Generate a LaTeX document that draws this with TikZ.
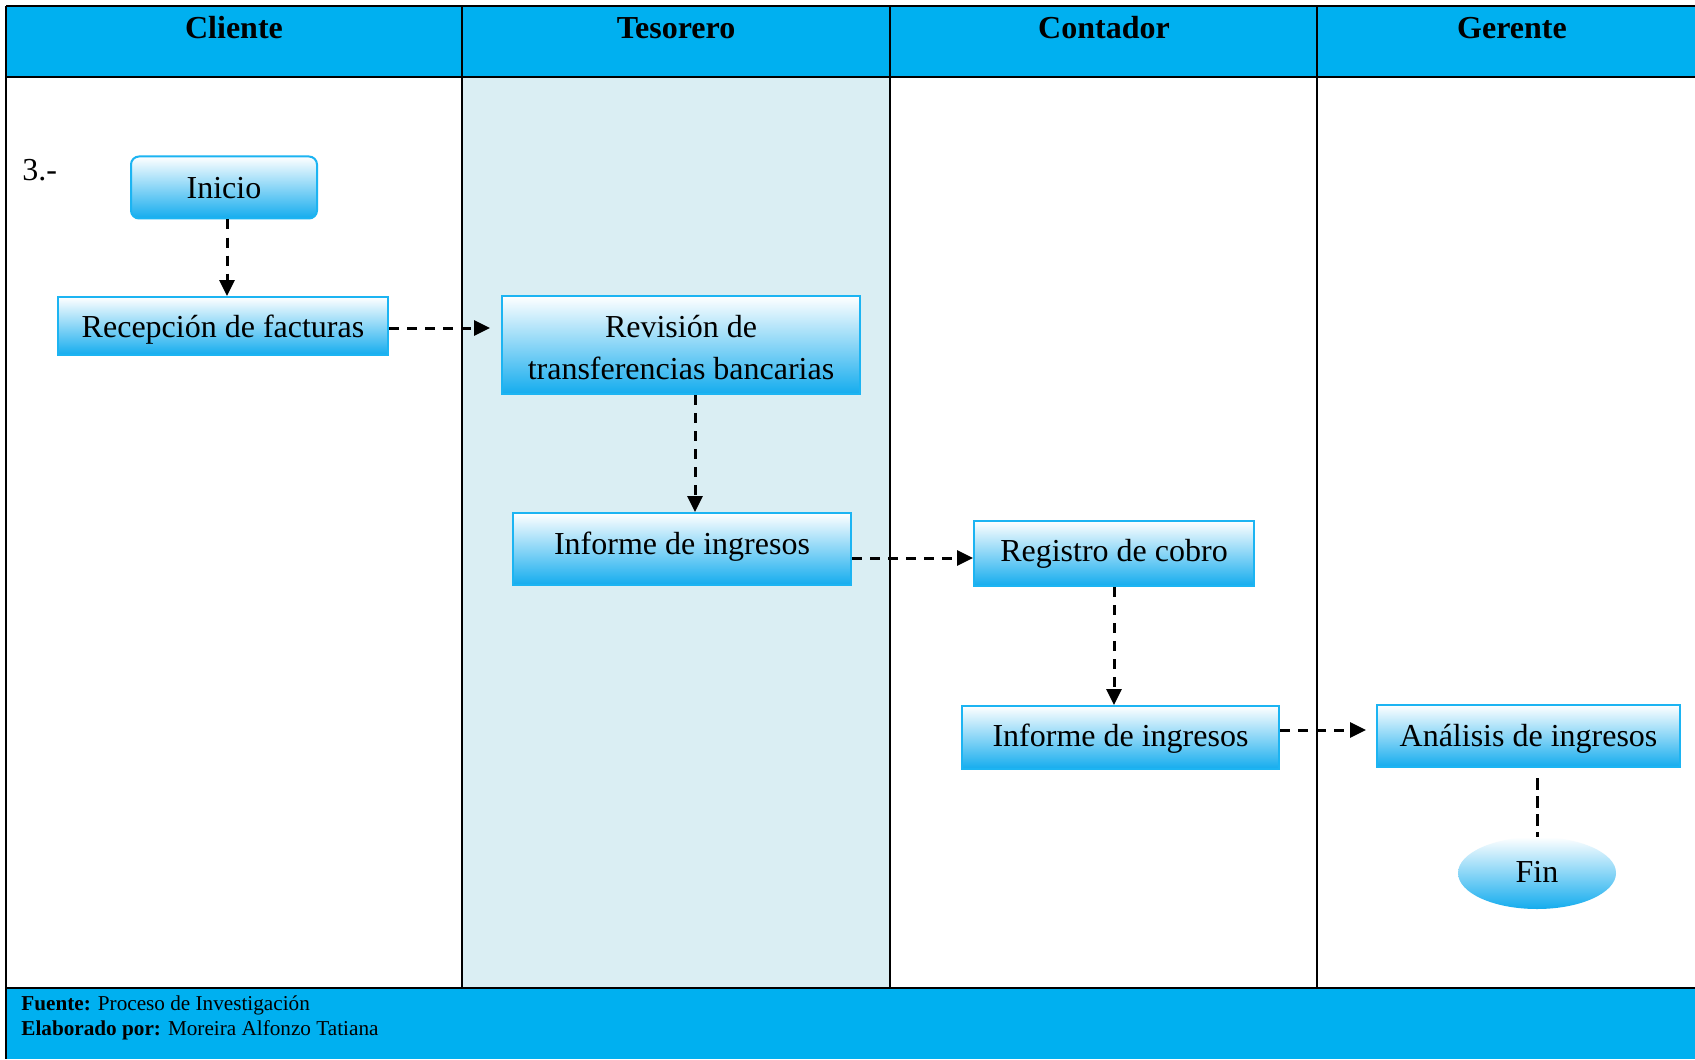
\documentclass[tikz,border=0pt]{standalone}
\usepackage{fontspec}
\setmainfont{Liberation Serif}
\usetikzlibrary{arrows.meta,shapes.geometric}
\definecolor{hdr}{HTML}{00B0F0}
\definecolor{lane}{HTML}{DAEEF3}
\definecolor{boxbot}{HTML}{14ACEE}
\definecolor{boxedge}{HTML}{1CB4F2}
\begin{document}
\begin{tikzpicture}[x=0.5pt,y=-0.5pt,
  grid/.style={draw=black, line width=0.75pt},
  proc/.style={rectangle, draw=boxedge, line width=1pt, top color=white, bottom color=boxbot,
    font=\fontsize{16}{20.5}\selectfont, text height=9pt, text depth=0pt, inner sep=0pt},
  startbox/.style={proc, rounded corners=4pt},
  endbox/.style={ellipse, draw=none, top color=white, bottom color=boxbot,
    font=\fontsize{16}{20.5}\selectfont, text height=9.6pt, text depth=0pt, inner sep=0pt},
  hdrtext/.style={anchor=base, font=\bfseries\fontsize{16}{19}\selectfont, inner sep=0pt},
  foottext/.style={anchor=base west, font=\fontsize{10.6}{12.5}\selectfont, inner sep=0pt},
  arr/.style={line width=1.5pt, dash pattern=on 5pt off 4pt, -{Triangle[length=8pt,width=7.5pt]}},
  dsh/.style={line width=1.5pt, dash pattern=on 6pt off 3pt}
]
\useasboundingbox (0,0) rectangle (1695,1059);
\fill[white] (0,0) rectangle (1695,1059);
% lanes
\fill[lane] (462,77) rectangle (890,988);
\fill[hdr] (6,6) rectangle (1695,77);
\fill[hdr] (6,988) rectangle (1695,1059);
% grid lines
\draw[grid] (6,6) -- (1695,6);
\draw[grid] (6,77) -- (1695,77);
\draw[grid] (6,988) -- (1695,988);
\draw[grid] (6,6) -- (6,1059);
\draw[grid] (462,6) -- (462,988);
\draw[grid] (890,6) -- (890,988);
\draw[grid] (1317,6) -- (1317,988);
% headers
\node[hdrtext] (hcli) at (234,39) {Cliente};
\node[hdrtext] (htes) at (676,39) {Tesorero};
\node[hdrtext] (hcon) at (1104,39) {Contador};
\node[hdrtext] (hger) at (1512,39) {Gerente};
% label
\node[anchor=base west, inner sep=0pt, font=\fontsize{16}{19}\selectfont] (num) at (22,180.5) {3.-};
% nodes
\node[startbox, minimum width=93pt, minimum height=31pt, text height=11.2pt] (inicio) at (224,187.5) {Inicio};
\node[proc, minimum width=165pt, minimum height=29pt, text height=11.2pt] (recep) at (223,326) {Recepción de facturas};
\node[proc, minimum width=179pt, minimum height=49pt, text height=, text depth=] (revision) at (681,345) {\raisebox{-17pt}[0pt][0pt]{\begin{tabular}[b]{@{}c@{}}Revisión de\\[0.25pt]transferencias bancarias\end{tabular}}};
\node[proc, minimum width=169pt, minimum height=36pt, text height=5pt] (inf1) at (682,549) {Informe de ingresos};
\node[proc, minimum width=140pt, minimum height=32.5pt, text height=8.4pt] (reg) at (1114,553.5) {Registro de cobro};
\node[proc, minimum width=158.5pt, minimum height=31.5pt, text height=9.2pt] (inf2) at (1120.5,737.5) {Informe de ingresos};
\node[proc, minimum width=151.5pt, minimum height=31pt, text height=10pt] (anal) at (1528.5,736) {Análisis de ingresos};
\node[endbox, minimum width=79pt, minimum height=36pt] (fin) at (1537,873) {Fin};
% connectors
\draw[arr] ([xshift=1.5pt]inicio.south) -- ([xshift=1.5pt]inicio.south |- recep.north);
\draw[arr, shorten >=5.5pt] ([yshift=-1pt]recep.east) -- ([yshift=-1pt]recep.east -| revision.west);
\draw[arr] ([xshift=7pt]revision.south) -- ([xshift=7pt]revision.south |- inf1.north);
\draw[arr] ([yshift=-4.5pt]inf1.east) -- ([yshift=-4.5pt]inf1.east -| reg.west);
\draw[arr] (reg.south) -- (reg.south |- inf2.north);
\draw[arr, shorten >=5pt] ([yshift=3.75pt]inf2.east) -- ([yshift=3.75pt]inf2.east -| anal.west);
\draw[dsh, shorten <=5pt] (fin.north |- anal.south) -- (fin.north);
% footer
\node[foottext] (f1) at (21,1010) {\textbf{Fuente:} Proceso de Investigación};
\node[foottext] (f2) at (21,1035) {\textbf{Elaborado por:} Moreira Alfonzo Tatiana};
\end{tikzpicture}
\end{document}
